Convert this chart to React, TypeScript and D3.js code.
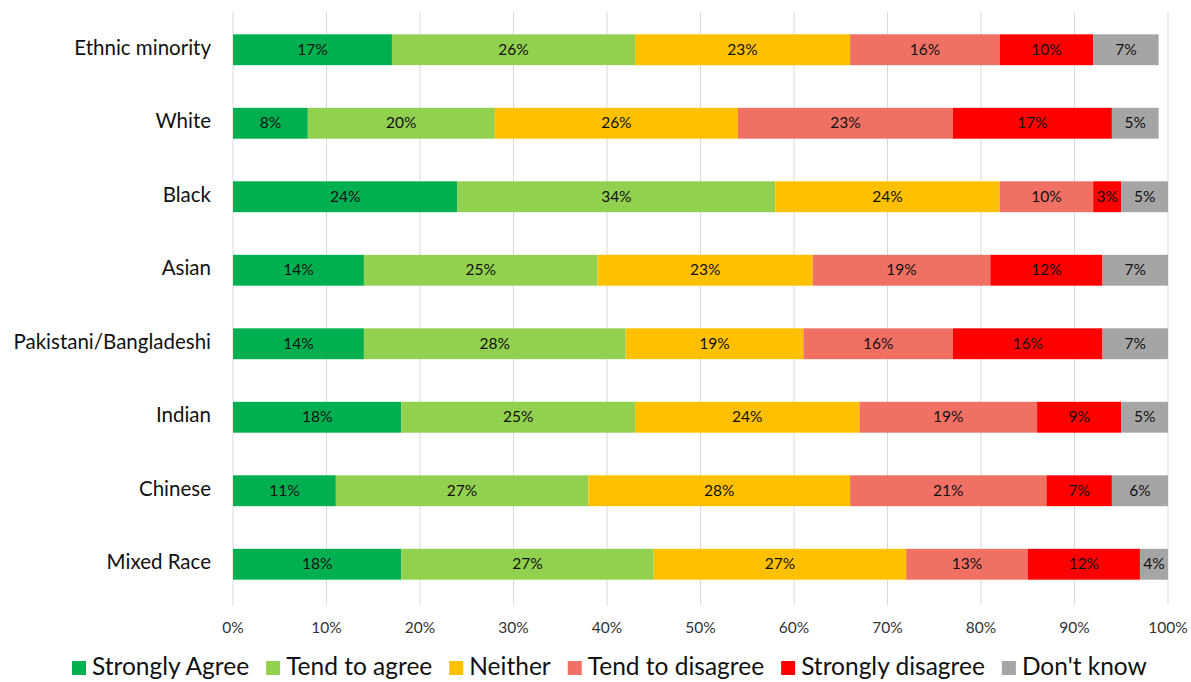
import React, { useRef, useEffect } from "react";
import * as d3 from "d3";

const categories = [
  "Ethnic minority",
  "White",
  "Black",
  "Asian",
  "Pakistani/Bangladeshi",
  "Indian",
  "Chinese",
  "Mixed Race",
];

const seriesNames = [
  "Strongly Agree",
  "Tend to agree",
  "Neither",
  "Tend to disagree",
  "Strongly disagree",
  "Don't know",
];

const seriesColors = ["#00B050", "#92D050", "#FFC000", "#F07064", "#FF0000", "#A5A5A5"];

// one array per series, in category order
const stronglyAgree = [17, 8, 24, 14, 14, 18, 11, 18];
const tendToAgree = [26, 20, 34, 25, 28, 25, 27, 27];
const neither = [23, 26, 24, 23, 19, 24, 28, 27];
const tendToDisagree = [16, 23, 10, 19, 16, 19, 21, 13];
const stronglyDisagree = [10, 17, 3, 12, 16, 9, 7, 12];
const dontKnow = [7, 5, 5, 7, 7, 5, 6, 4];

const xTicks = [0, 10, 20, 30, 40, 50, 60, 70, 80, 90, 100];

const WIDTH = 1191;
const HEIGHT = 682;
const FONT = "Lato, 'Open Sans', sans-serif";

function App() {
  const svgRef = useRef<SVGSVGElement>(null);

  useEffect(() => {
    const svg = d3.select(svgRef.current);
    svg.selectAll("*").remove();

    const margin = { top: 12, right: 23, bottom: 82, left: 233 };
    const values = [stronglyAgree, tendToAgree, neither, tendToDisagree, stronglyDisagree, dontKnow];

    const x = d3
      .scaleLinear()
      .domain([0, 100])
      .range([margin.left, WIDTH - margin.right])
      .clamp(true);

    const y = d3
      .scaleBand()
      .domain(categories)
      .range([margin.top + 1, HEIGHT - margin.bottom + 1])
      .paddingInner(0.58)
      .paddingOuter(0.29);

    // Grid lines
    svg
      .append("g")
      .selectAll("line")
      .data(xTicks)
      .enter()
      .append("line")
      .attr("x1", (d) => x(d))
      .attr("x2", (d) => x(d))
      .attr("y1", margin.top)
      .attr("y2", HEIGHT - margin.bottom + 5)
      .attr("stroke", "#D9D9D9")
      .attr("stroke-width", 1);

    // Tick labels
    svg
      .append("g")
      .selectAll("text")
      .data(xTicks)
      .enter()
      .append("text")
      .attr("x", (d) => x(d))
      .attr("y", 629)
      .attr("text-anchor", "middle")
      .attr("dominant-baseline", "middle")
      .attr("font-family", FONT)
      .attr("font-size", 15.5)
      .attr("fill", "#333")
      .text((d) => `${d}%`);

    // Category labels
    svg
      .append("g")
      .selectAll("text")
      .data(categories)
      .enter()
      .append("text")
      .attr("x", 211)
      .attr("y", (d) => y(d)! + y.bandwidth() / 2)
      .attr("text-anchor", "end")
      .attr("dominant-baseline", "middle")
      .attr("font-family", FONT)
      .attr("font-size", 20.5)
      .attr("fill", "#111")
      .text((d) => d);

    // Stacked segments
    categories.forEach((cat, ci) => {
      let start = 0;
      values.forEach((arr, si) => {
        const v = arr[ci];
        const x0 = x(start);
        const x1 = x(start + v);
        const g = svg.append("g");
        g.append("rect")
          .attr("x", x0)
          .attr("y", y(cat)!)
          .attr("width", Math.max(0, x1 - x0))
          .attr("height", y.bandwidth())
          .attr("fill", seriesColors[si]);
        g.append("text")
          .attr("x", (x0 + x1) / 2)
          .attr("y", y(cat)! + y.bandwidth() / 2 + 1)
          .attr("text-anchor", "middle")
          .attr("dominant-baseline", "middle")
          .attr("font-family", FONT)
          .attr("font-size", 15.5)
          .attr("fill", "#111")
          .text(`${v}%`);
        start += v;
      });
    });

    // Legend
    const legend = svg.append("g");
    const sq = 14;
    let lx = 72;
    const ly = 668;
    seriesNames.forEach((name, i) => {
      legend
        .append("rect")
        .attr("x", lx)
        .attr("y", ly - sq / 2)
        .attr("width", sq)
        .attr("height", sq)
        .attr("fill", seriesColors[i]);
      const t = legend
        .append("text")
        .attr("x", lx + sq + 6)
        .attr("y", ly + 1)
        .attr("dominant-baseline", "middle")
        .attr("font-family", FONT)
        .attr("font-size", 24.5)
        .attr("fill", "#111")
        .text(name);
      const w = (t.node() as SVGTextElement).getComputedTextLength();
      lx += sq + 6 + w + 17;
    });
  }, []);

  return (
    <svg
      ref={svgRef}
      width={WIDTH}
      height={HEIGHT}
      style={{ position: "absolute", left: 0, top: 0, background: "#fff" }}
    />
  );
}

export default App;
